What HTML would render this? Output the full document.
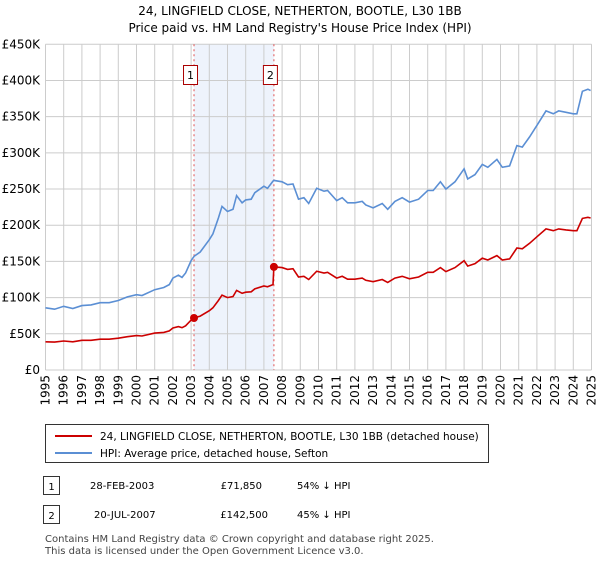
<!DOCTYPE html>
<html><head><meta charset="utf-8"><style>
body{margin:0;background:#fff;font-family:"DejaVu Sans",sans-serif;}
</style></head><body>
<svg width="600" height="560" xmlns="http://www.w3.org/2000/svg" font-family="DejaVu Sans, sans-serif">
<text x="300" y="15" text-anchor="middle" font-size="12">24, LINGFIELD CLOSE, NETHERTON, BOOTLE, L30 1BB</text>
<text x="300" y="32" text-anchor="middle" font-size="12">Price paid vs. HM Land Registry's House Price Index (HPI)</text>
<g id="grid"></g><g id="marks"></g><g id="axes"></g>
<g>
<rect x="45.5" y="424.5" width="443" height="38" fill="#fff" stroke="#333"/>
<line x1="55" y1="436" x2="92" y2="436" stroke="#cc0000" stroke-width="2"/>
<text x="100" y="440" font-size="10.5">24, LINGFIELD CLOSE, NETHERTON, BOOTLE, L30 1BB (detached house)</text>
<line x1="55" y1="453" x2="92" y2="453" stroke="#5b8fd4" stroke-width="2"/>
<text x="100" y="457" font-size="10.5">HPI: Average price, detached house, Sefton</text>
</g>
<g font-size="10">
<rect x="43.5" y="476.5" width="16" height="18" fill="#fff" stroke="#333"/><text x="51.5" y="490" text-anchor="middle">1</text>
<text x="90" y="489">28-FEB-2003</text><text x="262" y="489" text-anchor="end">£71,850</text><text x="297" y="489">54% ↓ HPI</text>
<rect x="43.5" y="505.5" width="16" height="18" fill="#fff" stroke="#333"/><text x="51.5" y="519" text-anchor="middle">2</text>
<text x="94" y="518">20-JUL-2007</text><text x="268" y="518" text-anchor="end">£142,500</text><text x="297" y="518">45% ↓ HPI</text>
</g>
<text x="45" y="542" font-size="10" fill="#444">Contains HM Land Registry data © Crown copyright and database right 2025.</text>
<text x="45" y="554" font-size="10" fill="#444">This data is licensed under the Open Government Licence v3.0.</text>
</svg>
<script>
const times=[1995,1995.5,1996,1996.5,1997,1997.5,1998,1998.5,1999,1999.5,2000,2000.3,2001,2001.5,2001.8,2002,2002.3,2002.5,2002.7,2003,2003.16,2003.5,2004,2004.2,2004.5,2004.7,2005,2005.3,2005.5,2005.8,2006,2006.3,2006.5,2007,2007.2,2007.5,2007.55,2008,2008.3,2008.6,2008.9,2009.2,2009.46,2009.9,2010.3,2010.5,2011,2011.3,2011.6,2012,2012.4,2012.6,2013,2013.5,2013.8,2014.2,2014.6,2015,2015.5,2016,2016.3,2016.7,2017,2017.5,2018,2018.2,2018.6,2019,2019.3,2019.8,2020.1,2020.5,2020.9,2021.2,2021.6,2022,2022.5,2022.9,2023.2,2023.6,2024,2024.2,2024.5,2024.8,2024.95];
const hpi=[86,84,88,85,89,90,93,93,96,101,104,103,111,114,118,127,131,128,134,151,157,163,180,188,210,226,219,222,241,231,235,236,245,254,251,261,262,260,256,257,236,238,230,251,247,248,234,238,231,231,233,228,224,230,222,233,238,232,236,248,248,260,250,260,278,264,270,284,280,291,280,282,310,308,322,338,358,354,358,356,354,354,385,388,386];
const price=[39,38.5,40,39,41,41,42.5,42.5,44,46,47.5,47,51,52,54,58,60,58.5,61,69,71.85,74.5,82,86,96,103.5,100,101.5,110,106,107.5,108,112,116,115,118,142.5,141.5,139,140,128.5,129.5,125,136.5,134,135,127,129.5,125.5,125.5,127,124,122,125,121,127,129.5,126,128.5,135,135,141.5,136,141.5,151,143.5,147,154.5,152,158,152,153.5,168.5,167.5,175,184,195,192.5,195,193.5,192.5,192.5,209.5,211,210];
const yTicks=[0,50,100,150,200,250,300,350,400,450];
const yTickLabels=["£0","£50K","£100K","£150K","£200K","£250K","£300K","£350K","£400K","£450K"];
const xYears=[1995,1996,1997,1998,1999,2000,2001,2002,2003,2004,2005,2006,2007,2008,2009,2010,2011,2012,2013,2014,2015,2016,2017,2018,2019,2020,2021,2022,2023,2024,2025];
const saleTimes=[2003.16,2007.55];
const salePrices=[71.85,142.5];
const saleLabels=["1","2"];

const NS="http://www.w3.org/2000/svg";
const X0=45.5,X1=591.5,Y0=370,Y1=44.3;
const xs=t=>X0+(t-1995)/30*(X1-X0);
const ys=v=>Y0-v/450*(Y0-Y1);
function mk(tag,attrs,parent){const e=document.createElementNS(NS,tag);for(const k in attrs)e.setAttribute(k,attrs[k]);document.getElementById(parent).appendChild(e);return e;}
const band=mk('rect',{x:xs(saleTimes[0]),y:Y1,width:xs(saleTimes[1])-xs(saleTimes[0]),height:Y0-Y1,fill:'#eef3fc'},'grid');


yTicks.forEach((v,i)=>{
 const l=mk('line',{x1:X0,x2:X1,y1:ys(v),y2:ys(v),stroke:'#cccccc'},'grid');
 
 
 const t=mk('text',{x:40,y:ys(v)+4,'text-anchor':'end','font-size':'12'},'axes');
 t.textContent=yTickLabels[i];
 
 
});
xYears.forEach(yr=>{
 const l=mk('line',{x1:xs(yr),x2:xs(yr),y1:Y1,y2:Y0,stroke:'#cccccc'},'grid');
 
 
 const t=mk('text',{x:0,y:0,'text-anchor':'end','font-size':'12',transform:`translate(${xs(yr)+4},${Y0+5}) rotate(-90)`},'axes');
 t.textContent=yr;
 
 
});
saleTimes.forEach((t,i)=>{
 const l=mk('line',{x1:xs(t),x2:xs(t),y1:Y1,y2:Y0,stroke:'#e05050','stroke-dasharray':'2,3'},'grid');
 
 
});
function path(arr,color,name){
 const d=arr.map((v,i)=>(i?'L':'M')+xs(times[i]).toFixed(1)+','+ys(v).toFixed(1)).join('');
 const p=mk('path',{d:d,fill:'none',stroke:color,'stroke-width':'1.6'},'marks');
 
 
}
path(hpi,'#5b8fd4','hpi-line');
path(price,'#cc0000','price-line');
saleTimes.forEach((t,i)=>{
 const c=mk('circle',{cx:xs(t),cy:ys(salePrices[i]),r:4,fill:'#cc0000'},'marks');
 
 
 const b=mk('rect',{x:xs(t)-10.5,y:65.5,width:14,height:19,fill:'#fff',stroke:'#aa0000'},'marks');
 
 
 const tx=mk('text',{x:xs(t)-3.5,y:79,'text-anchor':'middle','font-size':'11'},'marks');
 tx.textContent=saleLabels[i];
 
 
});
</script>
</body></html>
